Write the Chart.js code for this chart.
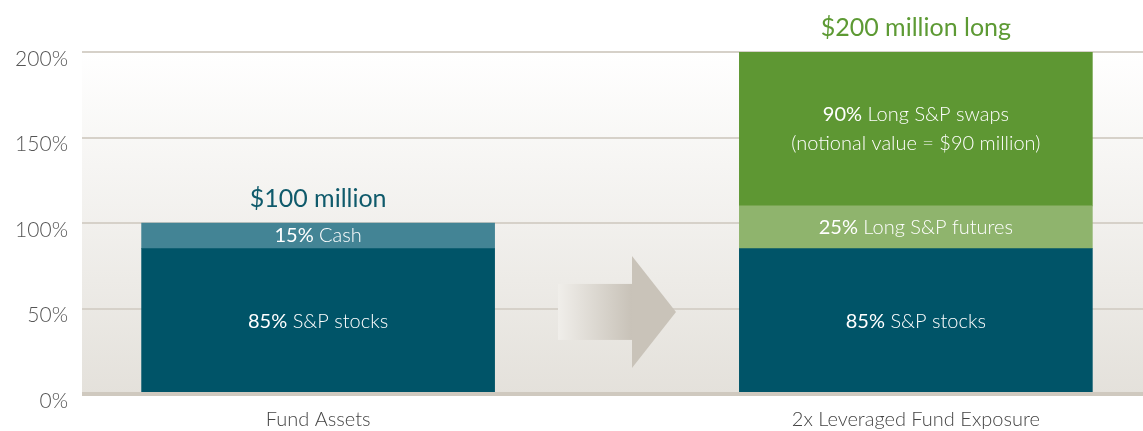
<!DOCTYPE html>
<html>
<head>
<meta charset="utf-8">
<script src="https://cdn.jsdelivr.net/npm/chart.js@4"></script>
<style>
  html, body { margin: 0; padding: 0; background: #fff; }
  #wrap { width: 1143px; height: 431px; }
</style>
</head>
<body>
<div id="wrap"><canvas id="chart"></canvas></div>
<script>
// data
const categories    = ['Fund Assets', '2x Leveraged Fund Exposure'];
const stockValues   = [85, 85];
const cashValues    = [15, null];
const futuresValues = [null, 25];
const swapsValues   = [null, 90];
const yTicks        = [0, 50, 100, 150, 200];
const totalLabels   = ['$100 million', '$200 million long'];
const totalColors   = ['#0f5a6b', '#5d9a34'];

const FONT = "Lato, 'Open Sans', sans-serif";

// category i sits at x = 2i + 1 on a linear axis
const toPoints = vals => vals
  .map((v, i) => v == null ? null : { x: 2 * i + 1, y: v })
  .filter(Boolean);

const datasets = [
  { key: 'stocks',  data: toPoints(stockValues),   backgroundColor: '#005468', lines: ['S&P stocks'] },
  { key: 'cash',    data: toPoints(cashValues),    backgroundColor: '#438495', lines: ['Cash'] },
  { key: 'futures', data: toPoints(futuresValues), backgroundColor: '#8fb46d', lines: ['Long S&P futures'] },
  { key: 'swaps',   data: toPoints(swapsValues),   backgroundColor: '#5e9733', lines: ['Long S&P swaps', '(notional value = $90 million)'] },
].map(d => ({ ...d, barThickness: 353, borderWidth: 0 }));

// ── background gradient in plot area ─────────────────────
const bgPlugin = {
  id: 'bg',
  beforeDraw(chart) {
    const { ctx, chartArea: a } = chart;
    ctx.save();
    ctx.fillStyle = '#fff';
    ctx.fillRect(0, 0, chart.width, chart.height);
    const g = ctx.createLinearGradient(0, a.top, 0, a.bottom);
    g.addColorStop(0, '#ffffff');
    g.addColorStop(1, '#e4e1db');
    ctx.fillStyle = g;
    ctx.fillRect(a.left, a.top, a.right - a.left, a.bottom - a.top);
    ctx.restore();
  }
};

// ── arrow between the bars ───────────────────────────────
const arrowPlugin = {
  id: 'arrow',
  beforeDatasetsDraw(chart) {
    const { ctx, scales: { x, y } } = chart;
    const cx = (x.getPixelForValue(1) + x.getPixelForValue(3)) / 2;
    const cy = y.getPixelForValue(48);
    const left = cx - 59, neck = cx + 15, tip = cx + 59;
    ctx.save();
    const g = ctx.createLinearGradient(left, 0, neck, 0);
    g.addColorStop(0, 'rgba(240,238,234,1)');
    g.addColorStop(1, '#c8c2b8');
    ctx.fillStyle = g;
    ctx.fillRect(left, cy - 28, neck - left + 1, 56);
    ctx.fillStyle = '#c9c3b9';
    ctx.beginPath();
    ctx.moveTo(neck, cy - 56);
    ctx.lineTo(tip, cy);
    ctx.lineTo(neck, cy + 56);
    ctx.closePath();
    ctx.fill();
    ctx.restore();
  }
};

// ── baseline, in-bar labels and totals ───────────────────
function richText(ctx, bold, rest, cx, cy, size) {
  ctx.font = `400 ${size}px ${FONT}`;
  const w1 = ctx.measureText(bold).width;
  ctx.font = `300 ${size}px ${FONT}`;
  const w2 = ctx.measureText(rest).width;
  let sx = cx - (w1 + w2) / 2;
  ctx.textAlign = 'left';
  ctx.font = `400 ${size}px ${FONT}`;
  ctx.fillText(bold, sx, cy);
  ctx.font = `300 ${size}px ${FONT}`;
  ctx.fillText(rest, sx + w1, cy);
}

const labelPlugin = {
  id: 'labels',
  afterDatasetsDraw(chart) {
    const { ctx, chartArea: a, scales: { x, y } } = chart;
    ctx.save();
    // thick baseline
    ctx.fillStyle = '#cfc9bf';
    ctx.fillRect(a.left, y.getPixelForValue(0) - 2, a.right - a.left, 4);

    ctx.fillStyle = '#fff';
    ctx.textBaseline = 'middle';
    chart.data.datasets.forEach((ds, di) => {
      chart.getDatasetMeta(di).data.forEach((el, j) => {
        const v = ds.data[j].y;
        const mid = (el.y + el.base) / 2;
        if (ds.lines.length === 1) {
          richText(ctx, v + '%', ' ' + ds.lines[0], el.x, mid, 20);
        } else {
          richText(ctx, v + '%', ' ' + ds.lines[0], el.x, mid - 14.5, 20);
          ctx.font = `300 20px ${FONT}`;
          ctx.textAlign = 'center';
          ctx.fillText(ds.lines[1], el.x, mid + 14.5);
        }
      });
    });

    // totals above each bar
    categories.forEach((c, i) => {
      const total = [stockValues, cashValues, futuresValues, swapsValues]
        .reduce((s, arr) => s + (arr[i] || 0), 0);
      ctx.fillStyle = totalColors[i];
      ctx.font = `400 25px ${FONT}`;
      ctx.textAlign = 'center';
      ctx.fillText(totalLabels[i], x.getPixelForValue(2 * i + 1), y.getPixelForValue(total) - 24);
    });
    ctx.restore();
  }
};

new Chart(document.getElementById('chart'), {
  type: 'bar',
  data: { datasets },
  options: {
    responsive: true,
    maintainAspectRatio: false,
    animation: false,
    layout: { padding: { top: 52, right: 0, bottom: 0, left: 0 } },
    plugins: { legend: { display: false }, tooltip: { enabled: false } },
    scales: {
      x: {
        type: 'linear',
        stacked: true,
        offset: false,
        min: 0.21,
        max: 3.76,
        afterBuildTicks: s => { s.ticks = categories.map((c, i) => ({ value: 2 * i + 1 })); },
        afterFit: s => { s.height = 37; },
        grid: { display: false, drawTicks: false, offset: false },
        border: { display: false },
        ticks: {
          autoSkip: false,
          maxRotation: 0,
          padding: 14,
          color: '#444',
          font: { family: FONT, size: 20, weight: '300' },
          callback: v => categories[(v - 1) / 2]
        }
      },
      y: {
        stacked: true,
        min: 0,
        max: 200,
        afterBuildTicks: s => { s.ticks = yTicks.map(v => ({ value: v })); },
        afterFit: s => { s.width = 82; },
        grid: {
          drawTicks: false,
          color: '#d6d1c9',
          lineWidth: c => c.tick && c.tick.value === 0 ? 0 : 2
        },
        border: { display: false },
        ticks: {
          padding: 14,
          labelOffset: 7,
          color: '#555',
          font: { family: FONT, size: 21, weight: '300' },
          callback: v => v + '%'
        }
      }
    }
  },
  plugins: [bgPlugin, arrowPlugin, labelPlugin]
});
</script>
</body>
</html>
